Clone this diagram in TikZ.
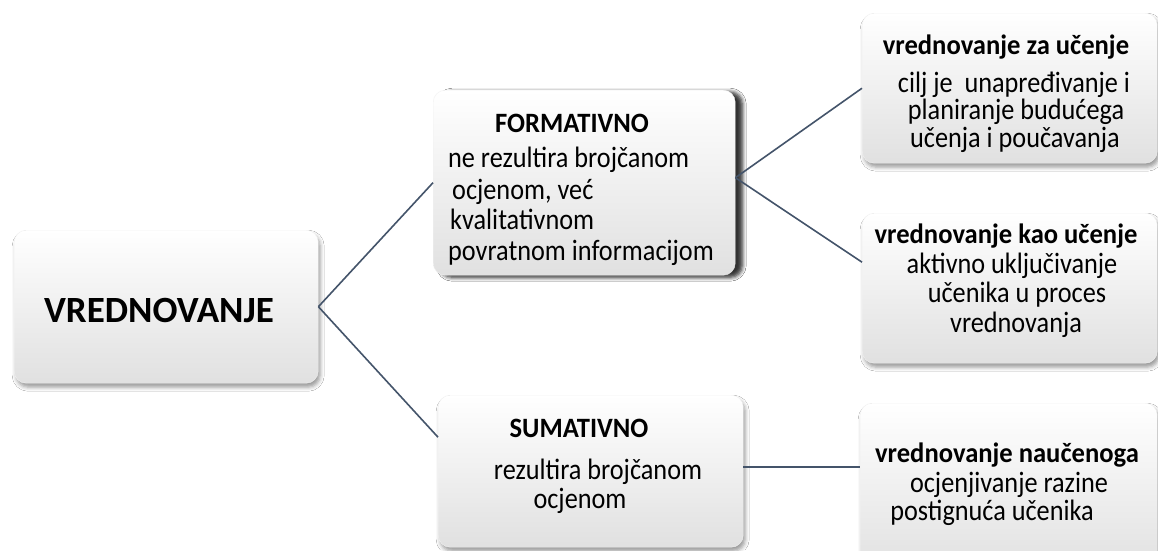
\documentclass[tikz,border=0pt]{standalone}
\usepackage{fontspec}
\setmainfont{Carlito}
\newfontfamily\bodyfont[FakeStretch=0.89]{Carlito}
\newfontfamily\headfont[FakeStretch=0.95]{Carlito}
\usetikzlibrary{shadows.blur,calc}
\definecolor{lineblue}{HTML}{44546A}
\begin{document}
\begin{tikzpicture}[x=1pt,y=-1pt,
  box/.style={rectangle, rounded corners=12pt, anchor=north west, inner sep=0pt,
    top color=white, middle color=white, bottom color=black!12, draw=black!5,
    blur shadow={shadow xshift=2pt, shadow yshift=-4pt, shadow blur radius=4pt, shadow opacity=40}},
  conn/.style={draw=lineblue, line width=1.6pt},
  txt/.style={anchor=base, inner sep=0pt, font=\bodyfont\fontsize{29.5}{31}\selectfont},
  ttl/.style={anchor=base, inner sep=0pt, font=\headfont\fontsize{28}{30}\selectfont\bfseries},
  ltxt/.style={txt, anchor=base west}
]
\clip (0,0) rectangle (1158,550);
\fill[white] (0,0) rectangle (1158,550);
% boxes
\node[box, minimum width=304pt, minimum height=153pt] (V) at (14,230) {};
\node[box, minimum width=302pt, minimum height=185pt,
  blur shadow={shadow xshift=7pt, shadow yshift=-2pt, shadow blur radius=4pt, shadow opacity=55}] (F) at (433,90) {};
\node[box, minimum width=295pt, minimum height=150pt] (R1) at (862,13) {};
\node[box, minimum width=295pt, minimum height=150pt] (R2) at (862,213) {};
\node[box, minimum width=305pt, minimum height=152pt] (S) at (438,395) {};
\node[box, minimum width=297pt, minimum height=170pt] (R3) at (860,403) {};
% connectors
\draw[conn] (V.east) -- (F.west);
\draw[conn] (V.east) -- ([yshift=34pt]S.west);
\draw[conn] ([yshift=5pt]F.east) -- (R1.west);
\draw[conn] ([yshift=5pt]F.east) -- ([yshift=26pt]R2.west);
\draw[conn] ([yshift=4pt]S.east) -- ([yshift=4pt]S.east -| R3.west);
% texts
\node[anchor=base, inner sep=0pt, font=\fontsize{37}{40}\selectfont\bfseries] (tV) at (159,322) {VREDNOVANJE};
\node[ttl] (tF0) at (572,132) {FORMATIVNO};
\node[ltxt] (tF1) at (448,167) {ne rezultira brojčanom};
\node[ltxt] (tF2) at (452,199) {ocjenom, već};
\node[ltxt] (tF3) at (450,229) {kvalitativnom};
\node[ltxt] (tF4) at (448,260) {povratnom informacijom};
\node[ttl] (tR10) at (1006,54) {vrednovanje za učenje};
\node[txt] (tR11) at (1014,92) {cilj je\ \ unapređivanje i};
\node[txt] (tR12) at (1016,119.5) {planiranje budućega};
\node[txt] (tR13) at (1015,147) {učenja i poučavanja};
\node[ttl] (tR20) at (1006,243) {vrednovanje kao učenje};
\node[txt] (tR21) at (1012,273) {aktivno uključivanje};
\node[txt] (tR22) at (1017,302) {učenika u proces};
\node[txt] (tR23) at (1016,332) {vrednovanja};
\node[ttl] (tR30) at (1007,462) {vrednovanje naučenoga};
\node[txt] (tR31) at (1009,492) {ocjenjivanje razine};
\node[txt] (tR32) at (992,520) {postignuća učenika};
\node[ttl] (tS0) at (579,437) {SUMATIVNO};
\node[txt] (tS1) at (598,479) {rezultira brojčanom};
\node[txt] (tS2) at (580,508) {ocjenom};
\end{tikzpicture}
\end{document}
